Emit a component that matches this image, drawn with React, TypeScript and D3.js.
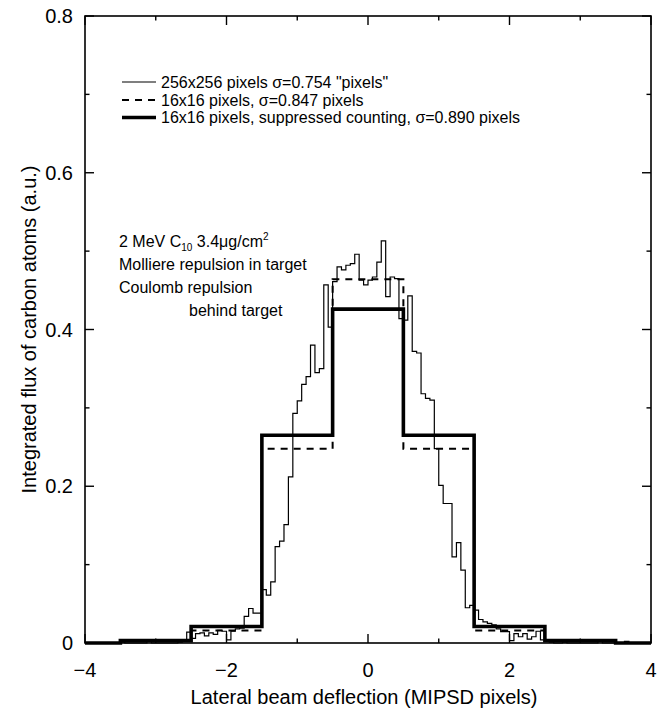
import React from "react";
import * as d3 from "d3";

// coarse 16x16 histograms (bin edges in MIPSD pixels)
const coarseEdges = [-4, -3.5, -2.5, -1.5, -0.5, 0.5, 1.5, 2.5, 3.5, 4];
const dashedValues = [0, 0.003, 0.016, 0.248, 0.464, 0.248, 0.016, 0.003, 0];
const thickValues = [0, 0.003, 0.021, 0.265, 0.426, 0.265, 0.021, 0.003, 0];

// fine 256x256 histogram, 16 bins per MIPSD pixel starting at -4
const fineStart = -4;
const fineWidth = 1 / 16;
const fineValues = [
  // -4 .. -3
  0, 0, 0, 0, 0, 0, 0, 0, 0.001, 0, 0, 0, 0, 0, 0.003, 0,
  // -3 .. -2
  0, 0, 0, 0, 0, 0.001, 0.003, 0.014, 0.006, 0.012, 0.013, 0.009, 0.013, 0.011, 0.016, 0.015,
  // -2 .. -1
  0.004, 0.015, 0.018, 0.019, 0.034, 0.044, 0.038, 0.038, 0.068, 0.061, 0.078, 0.123, 0.13, 0.151, 0.212, 0.293,
  // -1 .. 0
  0.309, 0.33, 0.34, 0.38, 0.345, 0.35, 0.457, 0.403, 0.461, 0.48, 0.476, 0.482, 0.484, 0.496, 0.463, 0.457,
  // 0 .. 1
  0.463, 0.467, 0.486, 0.513, 0.442, 0.467, 0.465, 0.414, 0.412, 0.443, 0.372, 0.37, 0.318, 0.312, 0.31, 0.248,
  // 1 .. 2
  0.201, 0.178, 0.178, 0.11, 0.128, 0.093, 0.045, 0.048, 0.042, 0.03, 0.027, 0.025, 0.023, 0.018, 0.0145, 0.0145,
  // 2 .. 3
  0.003, 0.012, 0.008, 0.012, 0.005, 0.008, 0.015, 0.004, 0.003, 0.001, 0, 0, 0.001, 0, 0, 0,
  // 3 .. 4
  0, 0, 0, 0, 0.002, 0, 0, 0, 0, 0, 0.002, 0, 0, 0, 0, 0,
];

const xMajor = [-4, -2, 0, 2, 4];
const xMinor = [-3, -1, 1, 3];
const yMajor = [0, 0.2, 0.4, 0.6, 0.8];
const yMinor = [0.1, 0.3, 0.5, 0.7];

const legendLabels = [
  '256x256 pixels \u03c3=0.754 "pixels"',
  "16x16 pixels, \u03c3=0.847 pixels",
  "16x16 pixels, suppressed counting, \u03c3=0.890 pixels",
];

const FONT = "'Liberation Sans', Arial, Helvetica, sans-serif";

type Pt = [number, number];

function stepPoints(edges: number[], values: number[]): Pt[] {
  const pts: Pt[] = values.map((v, i) => [edges[i], v] as Pt);
  pts.push([edges[edges.length - 1], values[values.length - 1]]);
  return pts;
}

export default function App() {
  const width = 670;
  const height = 721;
  const left = 85;
  const right = 651;
  const top = 16;
  const bottom = 643;

  const x = d3.scaleLinear().domain([-4, 4]).range([left, right]);
  const y = d3.scaleLinear().domain([0, 0.8]).range([bottom, top]);

  const line = d3
    .line<Pt>()
    .x((d) => x(d[0]))
    .y((d) => y(d[1]))
    .curve(d3.curveStepAfter);

  const fineEdges = fineValues.map((_, i) => fineStart + i * fineWidth);
  fineEdges.push(fineStart + fineValues.length * fineWidth);

  const thinPath = line(stepPoints(fineEdges, fineValues)) || "";
  const dashedPath = line(stepPoints(coarseEdges, dashedValues)) || "";
  const thickPath = line(stepPoints(coarseEdges, thickValues)) || "";

  const majorLen = 9;
  const minorLen = 4.5;

  const fmtX = (d: number) => (d < 0 ? "\u2212" + Math.abs(d) : String(d));
  const fmtY = (d: number) => (d === 0 ? "0" : d3.format(".1f")(d));

  const legendY = [82, 100, 117.5];
  const legendStyles = [
    { w: 1.2, dash: undefined as string | undefined },
    { w: 2, dash: "7,6" },
    { w: 3.6, dash: undefined as string | undefined },
  ];

  return (
    <div>
      <style>{`body{margin:0}`}</style>
      <svg width={width} height={height} style={{ display: "block", background: "#fff" }}>
        {/* histograms */}
        <path d={thinPath} fill="none" stroke="#000" strokeWidth={1.2} />
        <path d={dashedPath} fill="none" stroke="#000" strokeWidth={2} strokeDasharray="7,6" />
        <path d={thickPath} fill="none" stroke="#000" strokeWidth={3.6} />

        {/* frame */}
        <rect
          x={left}
          y={top}
          width={right - left}
          height={bottom - top}
          fill="none"
          stroke="#000"
          strokeWidth={1.6}
        />

        {/* x ticks (inward, bottom and top) */}
        {xMajor.concat(xMinor).map((t) => {
          const len = xMajor.includes(t) ? majorLen : minorLen;
          return (
            <g key={"xt" + t}>
              <line x1={x(t)} x2={x(t)} y1={bottom} y2={bottom - len} stroke="#000" strokeWidth={1.4} />
              <line x1={x(t)} x2={x(t)} y1={top} y2={top + len} stroke="#000" strokeWidth={1.4} />
            </g>
          );
        })}
        {/* y ticks (inward, left and right) */}
        {yMajor.concat(yMinor).map((t) => {
          const len = yMajor.includes(t) ? majorLen : minorLen;
          return (
            <g key={"yt" + t}>
              <line x1={left} x2={left + len} y1={y(t)} y2={y(t)} stroke="#000" strokeWidth={1.4} />
              <line x1={right} x2={right - len} y1={y(t)} y2={y(t)} stroke="#000" strokeWidth={1.4} />
            </g>
          );
        })}

        {/* tick labels */}
        {xMajor.map((t) => (
          <text
            key={"xl" + t}
            x={x(t)}
            y={bottom + 34}
            textAnchor="middle"
            fontFamily={FONT}
            fontSize={20}
          >
            {fmtX(t)}
          </text>
        ))}
        {yMajor.map((t) => (
          <text
            key={"yl" + t}
            x={left - 12}
            y={y(t) + 7}
            textAnchor="end"
            fontFamily={FONT}
            fontSize={20}
          >
            {fmtY(t)}
          </text>
        ))}

        {/* axis titles */}
        <text
          x={(left + right) / 2 - 4}
          y={704}
          textAnchor="middle"
          fontFamily={FONT}
          fontSize={20}
        >
          Lateral beam deflection (MIPSD pixels)
        </text>
        <text
          transform={`translate(36,${(top + bottom) / 2}) rotate(-90)`}
          textAnchor="middle"
          fontFamily={FONT}
          fontSize={20}
        >
          Integrated flux of carbon atoms (a.u.)
        </text>

        {/* legend */}
        {legendLabels.map((label, i) => (
          <g key={"lg" + i}>
            <line
              x1={122}
              x2={156}
              y1={legendY[i]}
              y2={legendY[i]}
              stroke="#000"
              strokeWidth={legendStyles[i].w}
              strokeDasharray={legendStyles[i].dash}
            />
            <text x={161} y={legendY[i] + 5.7} fontFamily={FONT} fontSize={16}>
              {label}
            </text>
          </g>
        ))}

        {/* annotation */}
        <g fontFamily={FONT} fontSize={16}>
          <text x={119} y={247}>
            2 MeV C
            <tspan fontSize={10} dy={4}>10</tspan>
            <tspan dy={-4}> 3.4{"\u03bc"}g/cm</tspan>
            <tspan fontSize={10} dy={-7}>2</tspan>
          </text>
          <text x={119} y={270}>Molliere repulsion in target</text>
          <text x={119} y={293}>Coulomb repulsion</text>
          <text x={189} y={316}>behind target</text>
        </g>
      </svg>
    </div>
  );
}
